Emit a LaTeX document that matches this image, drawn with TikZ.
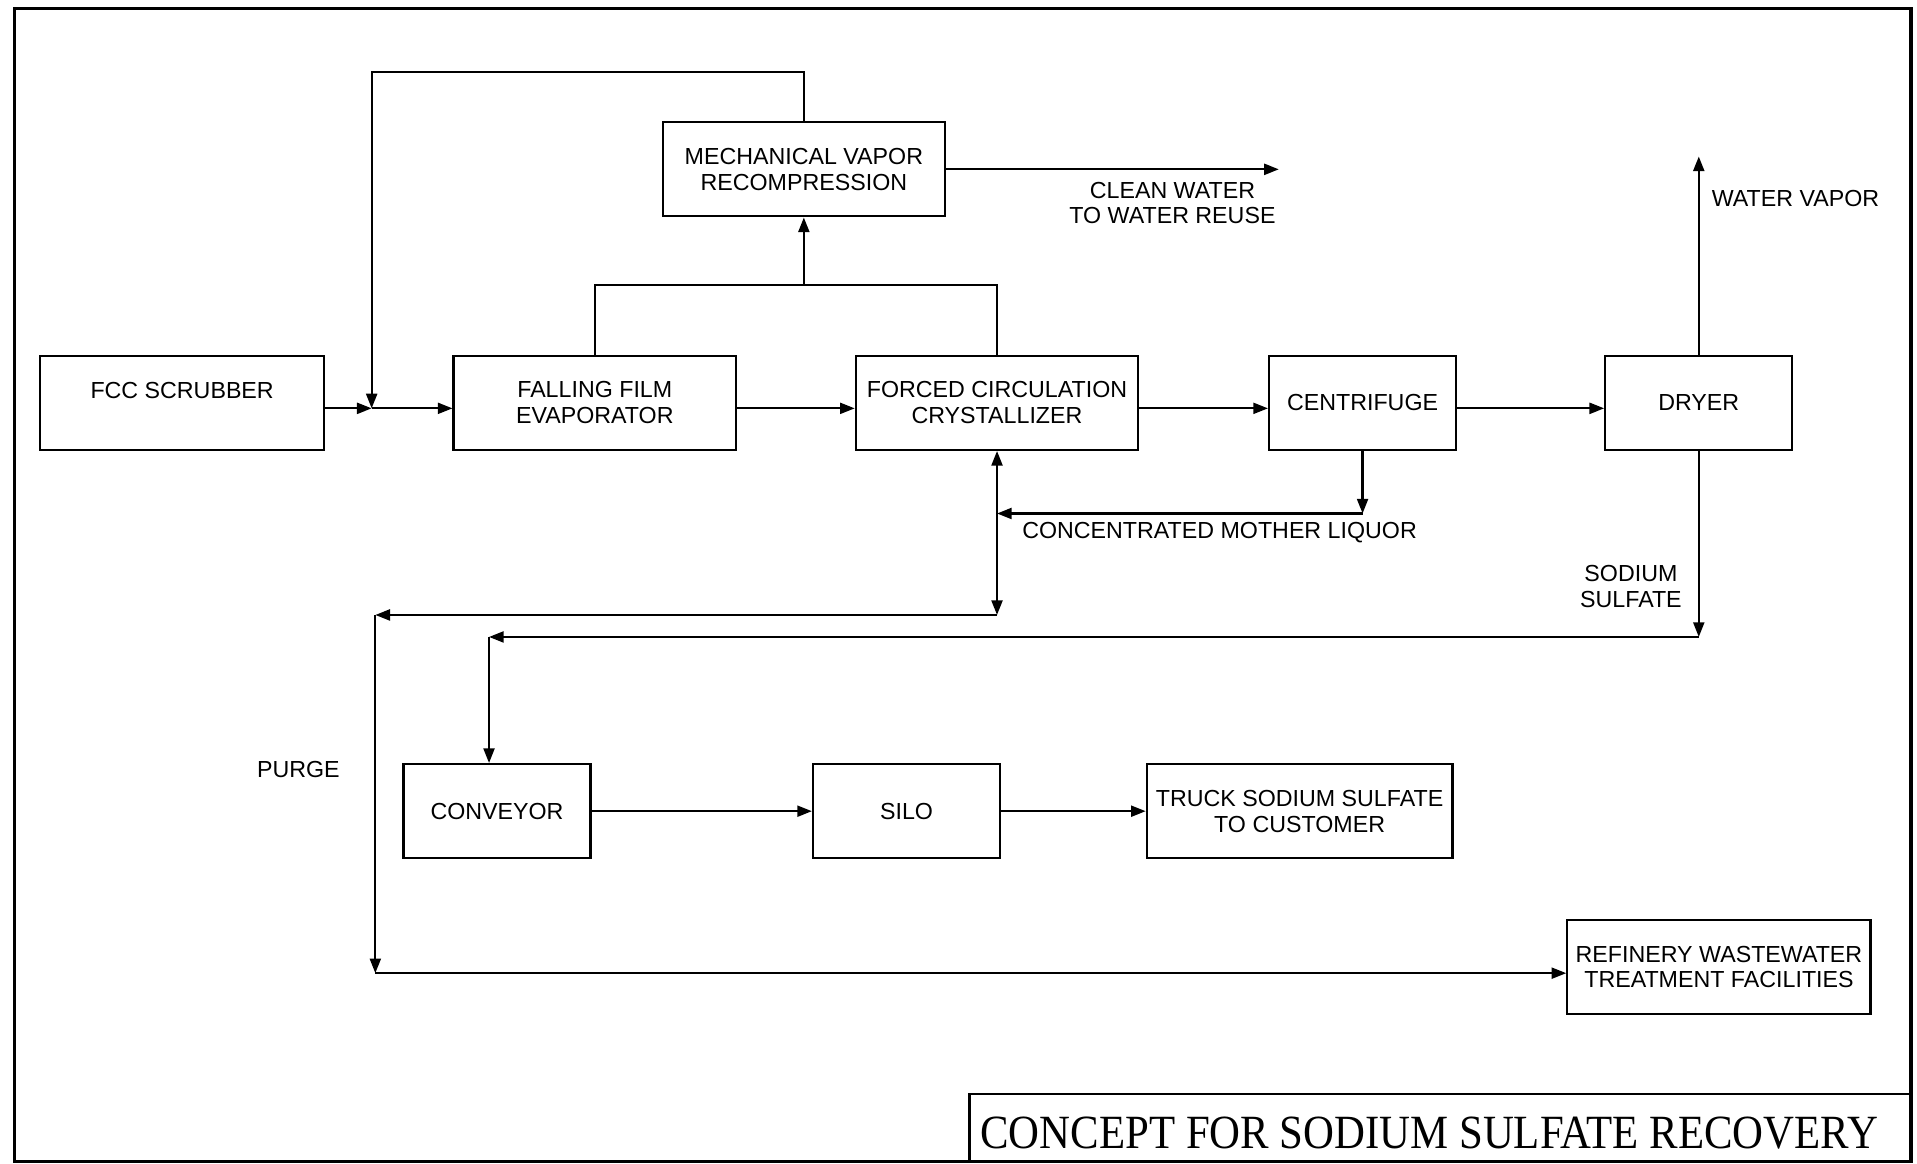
\documentclass[tikz,border=0pt]{standalone}
\usepackage{fontspec}
\setmainfont{Liberation Sans}
\newfontfamily\titlefont{Liberation Serif}
\usepackage{graphicx}
\usepackage{tikz}
\usetikzlibrary{arrows.meta}

\begin{document}
\begin{tikzpicture}[x = 1pt, y = -1pt,
    box/.style = {draw, line width = 1.8pt, minimum width = 231pt, minimum height = 77pt,
        inner sep = 0pt, align = center, font = \fontsize{19}{21}\selectfont},
    smallbox/.style = {box, minimum width = 153pt},
    lbl/.style = {align = center, inner sep = 0pt, font = \fontsize{19}{21}\selectfont},
    pipe/.style = {line width = 1.8pt},
    flow/.style = {pipe, -{Triangle[length = 12pt, width = 9pt]}}]
        \useasboundingbox (0, 0) rectangle (1568, 952);
        \draw [line width = 2.6pt] (12, 7) rectangle (1563, 950);
        \draw [pipe] (793, 950) -- (793, 895) -- (1563, 895);
        \node [anchor = base, inner sep = 0pt, font = \titlefont\fontsize{39}{39}\selectfont] (title) at (1169, 939)
        {\scalebox{0.897}[1]{CONCEPT FOR SODIUM SULFATE RECOVERY}};

        \node [box, minimum width = 232pt] (scrub) at (149, 329.5) {FCC SCRUBBER\\ \mbox{}};
        \node [box] (ffe) at (486.5, 329.5) {FALLING FILM\\EVAPORATOR};
        \node [box] (fcc) at (815.5, 329.5) {FORCED CIRCULATION\\CRYSTALLIZER};
        \node [smallbox] (cent) at (1114.5, 329.5) {CENTRIFUGE};
        \node [smallbox] (dryer) at (1389.5, 329.5) {DRYER};
        \node [box] (mvr) at (657.5, 138.5) {MECHANICAL VAPOR\\RECOMPRESSION};
        \node [smallbox] (conv) at (406.5, 663.5) {CONVEYOR};
        \node [smallbox] (silo) at (741.5, 663.5) {SILO};
        \node [box, minimum width = 250pt] (truck) at (1063, 663.5) {TRUCK SODIUM SULFATE\\TO CUSTOMER};
        \node [box, minimum width = 248pt] (refin) at (1406, 791) {REFINERY WASTEWATER\\TREATMENT FACILITIES};

        \coordinate (jn) at (304, 334);
        \coordinate (loop) at (304, 59);
        \coordinate (split) at (657.5, 233);
        \coordinate (cw) at (1046, 138.5);
        \coordinate (wv) at (1389.5, 128);
        \coordinate (ml) at (815.5, 420);
        \coordinate (pj) at (815.5, 503);
        \coordinate (pc) at (307, 503);
        \coordinate (pb) at (307, 796);
        \coordinate (sj) at (1389.5, 521);
        \coordinate (sc) at (400, 521);

        \draw [flow] ([yshift = -4.5pt]scrub.east) -- (jn);
        \draw [flow] (mvr.north) |- (loop) -- (jn);
        \draw [flow] (jn) -- (jn -| ffe.west);
        \draw [flow] ([yshift = -4.5pt]ffe.east) -- ([yshift = -4.5pt]fcc.west);
        \draw [pipe] (ffe.north) |- (split) -| (fcc.north);
        \draw [flow] (split) -- (mvr.south);
        \draw [flow] (mvr.east) -- (cw);
        \draw [flow] ([yshift = -4.5pt]fcc.east) -- ([yshift = -4.5pt]cent.west);
        \draw [flow] ([yshift = -4.5pt]cent.east) -- ([yshift = -4.5pt]dryer.west);
        \draw [flow] (dryer.north) -- (wv);
        \draw [flow] (cent.south) -- (cent.south |- ml);
        \draw [flow] (cent.south |- ml) -- (ml);
        \draw [flow] (ml) -- (fcc.south);
        \draw [flow] (ml) -- (pj);
        \draw [flow] (pj) -- (pc);
        \draw [flow] (pc) -- (pb);
        \draw [flow] (pb) -- (pb -| refin.west);
        \draw [flow] (dryer.south) -- (sj);
        \draw [flow] (sj) -- (sc);
        \draw [flow] (sc) -- (sc |- conv.north);
        \draw [flow] (conv.east) -- (silo.west);
        \draw [flow] (silo.east) -- (truck.west);

        \node [lbl] (cwtext) at (959, 166) {CLEAN WATER\\TO WATER REUSE};
        \node [lbl, anchor = west] (wvtext) at (1400, 162) {WATER VAPOR};
        \node [lbl, anchor = west] (mltext) at (836, 436) {CONCENTRATED MOTHER LIQUOR};
        \node [lbl] (natext) at (1334, 479.5) {SODIUM\\SULFATE};
        \node [lbl] (purge) at (244, 629) {PURGE};
    \end{tikzpicture}
\end{document}
